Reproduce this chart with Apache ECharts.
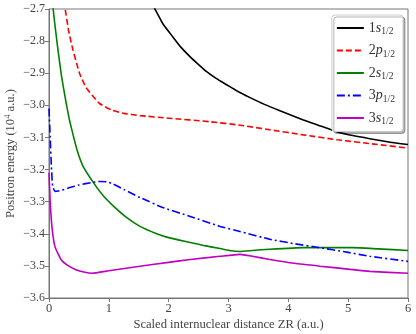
<!DOCTYPE html>
<html>
<head>
<meta charset="utf-8">
<script src="https://cdn.jsdelivr.net/npm/echarts@6/dist/echarts.min.js"></script>
<style>
  html, body { margin: 0; padding: 0; background: #fff; }
  #chart { width: 416px; height: 334px; }
</style>
</head>
<body>
<div id="chart"></div>
<script>
// values (ZR in a.u., energy in 10^4 a.u.)
const x1s = [1.6, 1.77, 1.9, 2.07, 2.2, 2.36, 2.5, 2.64, 2.8, 2.97, 3.15, 3.36, 3.6, 3.86, 4.24, 4.5, 4.81, 5.1, 5.36, 5.7, 6]
const y1s = [-2.64, -2.70, -2.745, -2.787, -2.818, -2.849, -2.873, -2.896, -2.917, -2.936, -2.956, -2.976, -2.997, -3.017, -3.045, -3.062, -3.082, -3.095, -3.104, -3.115, -3.122]

const x2p = [0.2, 0.27, 0.33, 0.4, 0.47, 0.52, 0.62, 0.75, 0.85, 1.04, 1.25, 1.52, 2.0, 2.69, 3.2, 3.69, 4.25, 4.81, 5.4, 6]
const y2p = [-2.62, -2.70, -2.77, -2.827, -2.875, -2.905, -2.945, -2.975, -2.995, -3.014, -3.025, -3.032, -3.04, -3.051, -3.062, -3.076, -3.092, -3.107, -3.12, -3.133]

const x2s = [0.03, 0.07, 0.15, 0.21, 0.27, 0.33, 0.38, 0.47, 0.57, 0.74, 0.9, 1.1, 1.3, 1.52, 1.8, 2.0, 2.36, 2.6, 2.86, 3.05, 3.19, 3.4, 3.69, 4.25, 5.08, 5.5, 6]
const y2s = [-2.55, -2.70, -2.827, -2.91, -2.975, -3.035, -3.075, -3.14, -3.19, -3.24, -3.28, -3.318, -3.35, -3.377, -3.40, -3.412, -3.427, -3.437, -3.446, -3.453, -3.455, -3.452, -3.448, -3.443, -3.443, -3.447, -3.452]

const x3p = [0, 0.02, 0.04, 0.06, 0.1, 0.2, 0.35, 0.5, 0.72, 0.85, 0.97, 1.07, 1.25, 1.52, 1.9, 2.36, 2.86, 3.19, 3.69, 4.1, 4.48, 5.0, 5.36, 6]
const y3p = [-3.01, -3.1, -3.19, -3.25, -3.268, -3.265, -3.256, -3.248, -3.24, -3.237, -3.238, -3.245, -3.262, -3.287, -3.318, -3.346, -3.377, -3.393, -3.417, -3.431, -3.442, -3.458, -3.47, -3.486]

const x3s = [0, 0.02, 0.05, 0.1, 0.2, 0.3, 0.45, 0.6, 0.72, 1.0, 1.52, 2.0, 2.36, 2.86, 3.19, 3.4, 3.69, 4.1, 4.53, 5.0, 5.36, 6]
const y3s = [-3.21, -3.3, -3.38, -3.44, -3.48, -3.497, -3.512, -3.52, -3.523, -3.515, -3.501, -3.489, -3.48, -3.47, -3.464, -3.47, -3.48, -3.492, -3.501, -3.51, -3.517, -3.523]

const xTicks = [0, 1, 2, 3, 4, 5, 6]
const yMin = -3.6
const yMax = -2.7

const labels = {
  '1s': '{n|1}{i|s}{sub|1/2}',
  '2p': '{n|2}{i|p}{sub|1/2}',
  '2s': '{n|2}{i|s}{sub|1/2}',
  '3p': '{n|3}{i|p}{sub|1/2}',
  '3s': '{n|3}{i|s}{sub|1/2}'
}

const zip = (xs, ys) => xs.map((x, i) => [x, ys[i]])
const minus = v => v.toFixed(1).replace('-', '\u2212')
const serif = 'Liberation Serif'

const chart = echarts.init(document.getElementById('chart'))

const line = (name, xs, ys, color, type) => ({
  name,
  type: 'line',
  data: zip(xs, ys),
  symbol: 'none',
  showSymbol: false,
  clip: true,
  smooth: 0.15,
  lineStyle: { color, width: 1.6, type },
  itemStyle: { color }
})

chart.setOption({
  animation: false,
  grid: {
    left: 49, right: 8, top: 9, bottom: 36,
    outerBoundsMode: 'none',
    containLabel: false,
    show: true, borderColor: '#777', borderWidth: 1
  },
  legend: {
    orient: 'vertical',
    right: 13, top: 15,
    itemWidth: 27, itemHeight: 12, itemGap: 7,
    padding: [6, 8, 5, 4],
    backgroundColor: '#fff',
    borderColor: '#ccc', borderWidth: 1, borderRadius: 3,
    shadowColor: 'rgba(0,0,0,0.3)', shadowBlur: 0, shadowOffsetX: 2, shadowOffsetY: 2,
    itemStyle: { opacity: 0 },
    formatter: name => labels[name],
    textStyle: {
      fontFamily: serif, color: '#333', fontSize: 14,
      rich: {
        n: { fontFamily: serif, fontSize: 14, color: '#333' },
        i: { fontFamily: serif, fontSize: 14, fontStyle: 'italic', color: '#333' },
        sub: { fontFamily: serif, fontSize: 9.5, color: '#333', padding: [7, 0, 0, 0] }
      }
    }
  },
  xAxis: {
    type: 'value',
    min: xTicks[0], max: xTicks[xTicks.length - 1], interval: 1,
    name: 'Scaled internuclear distance ZR (a.u.)',
    nameLocation: 'middle', nameGap: 20,
    nameMoveOverlap: false,
    nameTextStyle: { fontFamily: serif, fontSize: 12.6, color: '#444' },
    axisLine: { lineStyle: { color: '#777' } },
    axisTick: { inside: false, length: 4, lineStyle: { color: '#777' } },
    axisLabel: { fontFamily: serif, fontSize: 12.5, color: '#444', margin: 4 },
    splitLine: { show: false }
  },
  yAxis: {
    type: 'value',
    min: yMin, max: yMax, interval: 0.1,
    name: 'Positron energy (10{sup|4} a.u.)',
    nameLocation: 'middle', nameGap: 31,
    nameMoveOverlap: false,
    nameTextStyle: {
      fontFamily: serif, fontSize: 12.6, color: '#444',
      rich: { sup: { fontFamily: serif, fontSize: 8.5, color: '#444', padding: [0, 0, 6, 0] } }
    },
    axisLine: { show: true, lineStyle: { color: '#777' } },
    axisTick: { show: true, inside: false, length: 4, lineStyle: { color: '#777' } },
    axisLabel: { fontFamily: serif, fontSize: 12, color: '#444', margin: 4, formatter: minus },
    splitLine: { show: false }
  },
  series: [
    line('1s', x1s, y1s, '#000000', 'solid'),
    line('2p', x2p, y2p, '#ff0000', [6, 3]),
    line('2s', x2s, y2s, '#008000', 'solid'),
    line('3p', x3p, y3p, '#0000ff', [8, 3, 2, 3]),
    line('3s', x3s, y3s, '#c000c0', 'solid')
  ]
})
</script>
</body>
</html>
